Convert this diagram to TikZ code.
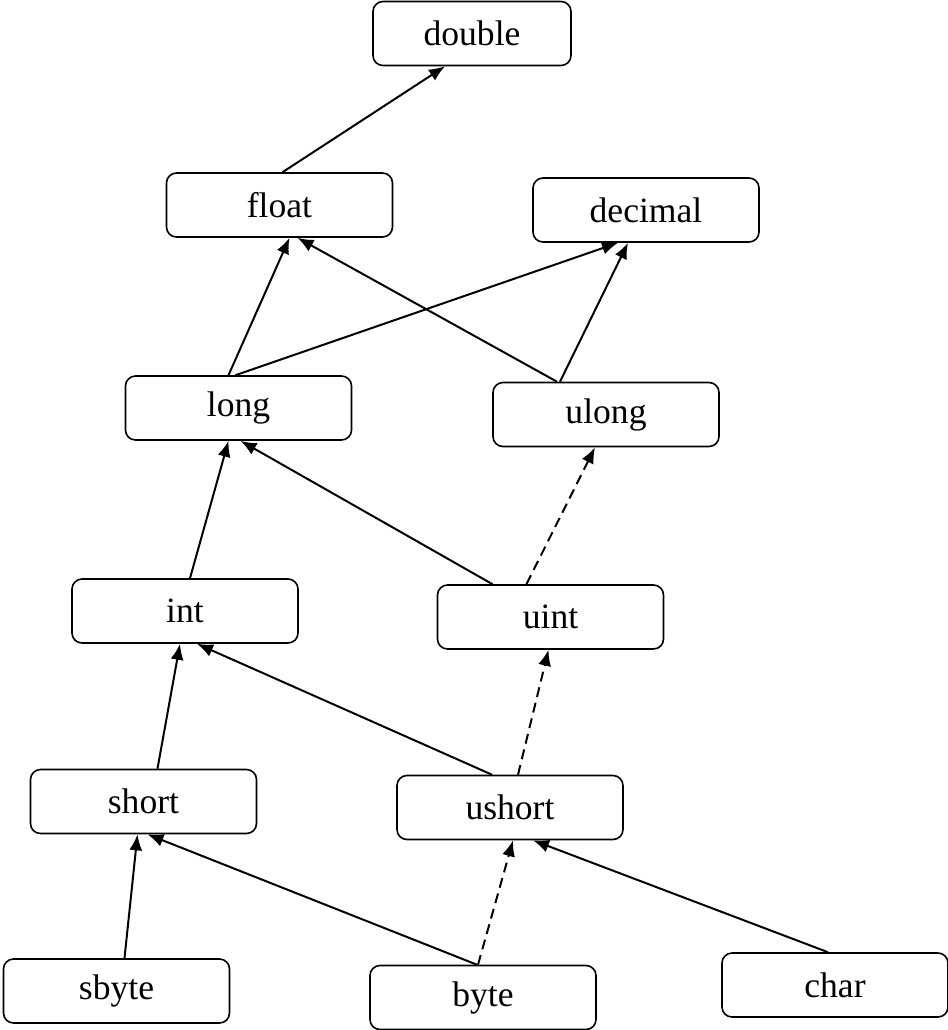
\documentclass[tikz,border=0pt]{standalone}
\usepackage{fontspec}
\setmainfont{Liberation Serif}
\usetikzlibrary{arrows.meta}

\begin{document}
\begin{tikzpicture}[x=0.5pt,y=-0.5pt,
  every node/.style={align=center,font=\fontsize{17.8}{20}\selectfont},
  box/.style={draw,line width=0.8pt,rounded corners=5pt,minimum width=113pt,minimum height=32pt,inner sep=0pt},
  conv/.style={line width=1pt,-{Latex[length=8pt,width=6.5pt]}},
  implicit/.style={conv,dash pattern=on 5pt off 3pt}
]
\useasboundingbox (0,0) rectangle (948,1030);
\node[box,minimum width=99pt] (dbl) at (472,33.5) {double};
\node[box] (flt) at (279.5,205) {float};
\node[box] (dec) at (646,210) {decimal};
\node[box] (lng) at (238.5,408) {long};
\node[box] (ulng) at (606,414.5) {ulong};
\node[box] (int) at (185,611) {int};
\node[box] (uint) at (550.5,617) {uint};
\node[box] (shrt) at (143.5,801.5) {short};
\node[box] (ushrt) at (510,807.5) {ushort};
\node[box] (sbyte) at (116.5,991) {sbyte};
\node[box] (byte) at (483,997.5) {byte};
\node[box] (char) at (835,985) {char};

\draw[conv] ([xshift=1.5pt]flt.north) -- ([xshift=-13.5pt]dbl.south);
\draw[conv] ([xshift=-5pt]lng.north) -- ([xshift=5pt]flt.south);
\draw[conv] ([xshift=-1.5pt]lng.north) -- ([xshift=-14pt]dec.south);
\draw[conv] ([xshift=-24.5pt]ulng.north) -- ([xshift=9pt]flt.south);
\draw[conv] ([xshift=-23pt]ulng.north) -- ([xshift=-9pt]dec.south);
\draw[conv] ([xshift=2.5pt]int.north) -- ([xshift=-5pt]lng.south);
\draw[conv] ([xshift=-29pt]uint.north) -- ([xshift=1pt]lng.south);
\draw[implicit] ([xshift=-12pt]uint.north) -- ([xshift=-5.5pt]ulng.south);
\draw[conv] ([xshift=7pt]shrt.north) -- ([xshift=-2.5pt]int.south);
\draw[conv] ([xshift=-9pt]ushrt.north) -- ([xshift=6pt]int.south);
\draw[implicit] ([xshift=4pt]ushrt.north) -- ([xshift=-1pt]uint.south);
\draw[conv] ([xshift=4pt]sbyte.north) -- ([xshift=-3pt]shrt.south);
\draw[conv] ([xshift=-3pt]byte.north) -- ([xshift=2pt]shrt.south);
\draw[implicit] ([xshift=-2.5pt]byte.north) -- ([xshift=1.5pt]ushrt.south);
\draw[conv] ([xshift=-3.5pt]char.north) -- ([xshift=11.5pt]ushrt.south);
\end{tikzpicture}
\end{document}
